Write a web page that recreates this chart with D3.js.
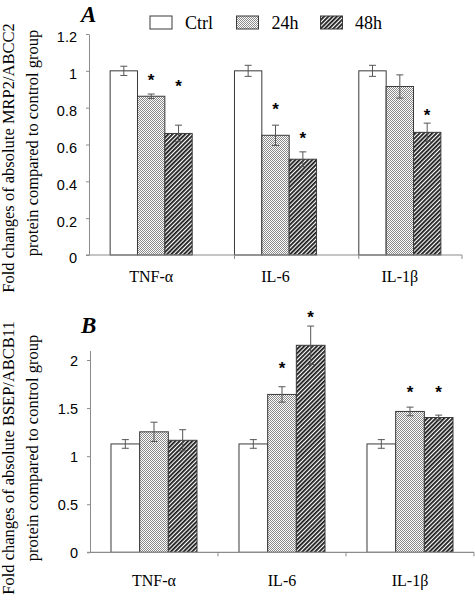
<!DOCTYPE html>
<html><head><meta charset="utf-8">
<script src="https://cdn.jsdelivr.net/npm/d3@7"></script>
<style>
html,body{margin:0;padding:0;background:#fff;}
svg{display:block;}
</style></head>
<body>
<script>
// ---- data ----
const categories = ["TNF-α", "IL-6", "IL-1β"];
const seriesNames = ["Ctrl", "24h", "48h"];

// Panel A: MRP2/ABCC2
const mrp2Ctrl = [1.0, 1.0, 1.0];
const mrp2H24  = [0.862, 0.65, 0.915];
const mrp2H48  = [0.66, 0.52, 0.666];
const mrp2ErrCtrl = [0.025, 0.03, 0.03];
const mrp2ErrH24  = [0.012, 0.055, 0.063];
const mrp2ErrH48  = [0.045, 0.04, 0.05];
// star annotation level (y value) per bar, null = none
const mrp2StarH24 = [0.969, 0.807, null];
const mrp2StarH48 = [0.936, 0.653, 0.775];
const mrp2Ticks = [0, 0.2, 0.4, 0.6, 0.8, 1, 1.2];

// Panel B: BSEP/ABCB11
const bsepCtrl = [1.127, 1.127, 1.127];
const bsepH24  = [1.253, 1.642, 1.465];
const bsepH48  = [1.165, 2.153, 1.402];
const bsepErrCtrl = [0.045, 0.045, 0.045];
const bsepErrH24  = [0.10, 0.08, 0.045];
const bsepErrH48  = [0.11, 0.20, 0.025];
const bsepStarH24 = [null, 1.948, 1.70];
const bsepStarH48 = [null, 2.477, 1.70];
const bsepTicks = [0, 0.5, 1, 1.5, 2];
const bsepTickLabels = ["0", "0.5", "1", "1.5", "2"];

const W = 475, H = 603;
const svg = d3.select("body").append("svg").attr("width", W).attr("height", H);

// patterns
const defs = svg.append("defs");
const p24 = defs.append("pattern").attr("id", "p24").attr("patternUnits", "userSpaceOnUse")
  .attr("width", 2).attr("height", 2);
p24.append("rect").attr("width", 2).attr("height", 2).attr("fill", "#fff");
p24.append("rect").attr("width", 1).attr("height", 1).attr("fill", "#8a8a8a");
p24.append("rect").attr("x", 1).attr("y", 1).attr("width", 1).attr("height", 1).attr("fill", "#8a8a8a");

const p48 = defs.append("pattern").attr("id", "p48").attr("patternUnits", "userSpaceOnUse")
  .attr("width", 3).attr("height", 3).attr("patternTransform", "rotate(45)");
p48.append("rect").attr("width", 3).attr("height", 3).attr("fill", "#fff");
p48.append("rect").attr("width", 1.8).attr("height", 3).attr("fill", "#1a1a1a");

const fills = ["#ffffff", "url(#p24)", "url(#p48)"];
const axisColor = "#8c8c8c";
const barStroke = "#3a3a3a";
const errColor = "#555";

function drawPanel(opt) {
  const g = svg.append("g");
  const x = d3.scaleBand().domain(categories).range([opt.x0, opt.x1]).padding(0);
  const y = d3.scaleLinear().domain([0, opt.ymax]).range([opt.y0, opt.ytop]);
  const gw = x.bandwidth() * opt.groupFrac;
  const xs = d3.scaleBand().domain(seriesNames).range([0, gw]).padding(0);
  const off = (x.bandwidth() - gw) / 2;

  // y axis
  const ax = d3.axisLeft(y).tickValues(opt.ticks).tickSize(3).tickSizeOuter(0).tickPadding(9)
    .tickFormat((d, i) => opt.tickLabels ? opt.tickLabels[i] : String(d));
  const ag = g.append("g").attr("transform", `translate(${opt.x0},0)`).call(ax);
  ag.select(".domain").attr("stroke", axisColor);
  ag.selectAll(".tick line").attr("stroke", axisColor);
  ag.selectAll(".tick text").attr("fill", "#000")
    .style("font-family", "'Liberation Sans', Arial, sans-serif").style("font-size", "14.5px")
    .attr("dy", opt.labelDy);

  // bars
  const vals = opt.values;
  const errs = opt.errors;
  const stars = opt.stars;
  categories.forEach((c, ci) => {
    seriesNames.forEach((s, si) => {
      const v = vals[si][ci];
      const bx = x(c) + off + xs(s);
      g.append("rect").attr("x", bx).attr("y", y(v)).attr("width", xs.bandwidth())
        .attr("height", y(0) - y(v)).attr("fill", fills[si])
        .attr("stroke", barStroke).attr("stroke-width", 1);
    });
  });
  // x axis
  g.append("line").attr("x1", opt.x0).attr("x2", opt.x1).attr("y1", y(0)).attr("y2", y(0))
    .attr("stroke", axisColor).attr("stroke-width", 1.2);
  const xt = opt.xTickAtBar
    ? categories.slice(1).map(c => x(c) + off).concat([opt.x1])
    : categories.slice(1).map(c => x(c)).concat([opt.x1]);
  xt.forEach(t => g.append("line").attr("x1", t).attr("x2", t).attr("y1", y(0)).attr("y2", y(0) + 4)
    .attr("stroke", axisColor));
  g.append("line").attr("x1", opt.x0 - 3).attr("x2", opt.x0).attr("y1", y(0)).attr("y2", y(0)).attr("stroke", axisColor);

  // error bars & stars
  categories.forEach((c, ci) => {
    seriesNames.forEach((s, si) => {
      const v = vals[si][ci], e = errs[si][ci];
      const cx = x(c) + off + xs(s) + xs.bandwidth() / 2;
      const eg = g.append("g").attr("stroke", errColor).attr("stroke-width", 1);
      eg.append("line").attr("x1", cx).attr("x2", cx).attr("y1", y(v - e)).attr("y2", y(v + e));
      [v - e, v + e].forEach(t => eg.append("line").attr("x1", cx - 3.5).attr("x2", cx + 3.5)
        .attr("y1", y(t)).attr("y2", y(t)));
      const st = stars[si] ? stars[si][ci] : null;
      if (st != null) {
        g.append("text").attr("x", cx).attr("y", y(st) + 9).attr("text-anchor", "middle")
          .style("font-family", "'Liberation Sans', Arial, sans-serif").style("font-size", "17px")
          .style("font-weight", "bold").text("*");
      }
    });
  });

  // category labels
  categories.forEach(c => {
    g.append("text").attr("x", x(c) + x.bandwidth() / 2).attr("y", opt.catY).attr("text-anchor", "middle")
      .style("font-family", "'Liberation Serif', 'Times New Roman', serif").style("font-size", "16px")
      .text(c);
  });

  // panel letter
  g.append("text").attr("x", opt.letterX).attr("y", opt.letterY)
    .style("font-family", "'Liberation Serif', 'Times New Roman', serif").style("font-size", "23px")
    .style("font-weight", "bold").style("font-style", "italic").text(opt.letter);

  // y title
  opt.title.forEach((t, i) => {
    g.append("text").attr("transform", `translate(${opt.titleX[i]},${opt.titleY[i]}) rotate(-90)`)
      .attr("text-anchor", "middle")
      .style("font-family", "'Liberation Serif', 'Times New Roman', serif").style("font-size", "16.5px")
      .text(t);
  });
}

drawPanel({
  x0: 89, x1: 462, y0: 255, ytop: 34, ymax: 1.2, groupFrac: 0.66,
  ticks: mrp2Ticks, labelDy: "0.55em",
  values: [mrp2Ctrl, mrp2H24, mrp2H48], errors: [mrp2ErrCtrl, mrp2ErrH24, mrp2ErrH48],
  stars: [null, mrp2StarH24, mrp2StarH48],
  xTickAtBar: true, catY: 282, letter: "A", letterX: 81, letterY: 22,
  title: ["Fold changes of absolute MRP2/ABCC2", "protein compared to control group"],
  titleX: [14, 38], titleY: [158, 143]
});

drawPanel({
  x0: 90, x1: 474, y0: 552.3, ytop: 350.4, ymax: 2.1, groupFrac: 0.672,
  ticks: bsepTicks, tickLabels: bsepTickLabels, labelDy: "0.38em",
  values: [bsepCtrl, bsepH24, bsepH48], errors: [bsepErrCtrl, bsepErrH24, bsepErrH48],
  stars: [null, bsepStarH24, bsepStarH48],
  xTickAtBar: false, catY: 586, letter: "B", letterX: 81, letterY: 333,
  title: ["Fold changes of absolute BSEP/ABCB11", "protein compared to control group"],
  titleX: [14, 38], titleY: [458, 448]
});

// legend
const legX = [150, 236.5, 320.5];
const legTextX = [185, 271.5, 355];
const lg = svg.append("g");
seriesNames.forEach((s, i) => {
  lg.append("rect").attr("x", legX[i]).attr("y", 16).attr("width", 22).attr("height", 13)
    .attr("fill", fills[i]).attr("stroke", barStroke);
  lg.append("text").attr("x", legTextX[i]).attr("y", 28.5)
    .style("font-family", "'Liberation Serif', 'Times New Roman', serif").style("font-size", "18px")
    .text(s);
});
</script>
</body></html>
